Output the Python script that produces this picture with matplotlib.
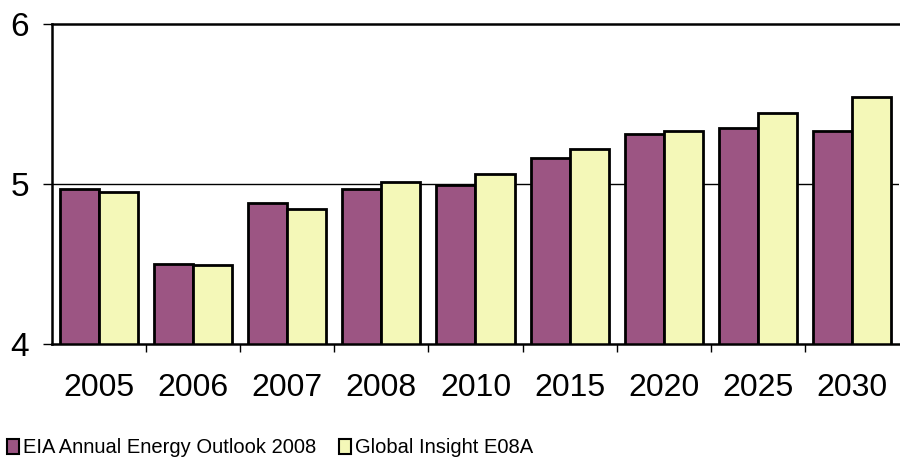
import matplotlib
matplotlib.use("Agg")
import matplotlib.pyplot as plt
import numpy as np

years = ["2005", "2006", "2007", "2008", "2010", "2015", "2020", "2025", "2030"]
eia = [4.97, 4.50, 4.88, 4.97, 4.99, 5.16, 5.31, 5.35, 5.33]
gi = [4.95, 4.49, 4.84, 5.01, 5.06, 5.215, 5.33, 5.44, 5.54]
series_names = ["EIA Annual Energy Outlook 2008", "Global Insight E08A"]
colors = ["#9C5583", "#F4F8B8"]

plt.rcParams['font.family'] = ["Liberation Sans", 'DejaVu Sans']

fig = plt.figure(figsize=(9, 4.66), dpi=100)
ax = fig.add_axes([52/900, 1-344/466, 847/900, (344-23.5)/466])

x = np.arange(len(years))
w = 0.415
ax.bar(x - w/2, eia, w, color=colors[0], edgecolor="black", linewidth=2, zorder=3, label=series_names[0])
ax.bar(x + w/2, gi, w, color=colors[1], edgecolor="black", linewidth=2, zorder=3, label=series_names[1])

ax.set_ylim(4, 6)
ax.set_xlim(-0.5, len(years) - 0.5)
ax.set_yticks([4, 5, 6])
ax.set_yticklabels(["4", "5", "6"], fontsize=24)
ax.axhline(5, color="black", linewidth=1, zorder=1)
ax.set_xticks(x)
ax.set_xticklabels(years, fontsize=23)
ax.set_xticks(np.arange(0.5, len(years) - 0.5, 1), minor=True)
ax.tick_params(axis="x", which="major", length=0, pad=21)
ax.tick_params(axis="x", which="minor", length=6, width=1, direction="out")
ax.tick_params(axis="y", length=6.5, width=1, direction="out", pad=10)

ax.spines["right"].set_visible(False)
for s in ["left", "bottom", "top"]:
    ax.spines[s].set_linewidth(1.8)
    ax.spines[s].set_zorder(4)

leg = fig.legend(loc="center left", bbox_to_anchor=(7/900, 0.039), ncol=2, frameon=False,
                 prop={"size": 14.5},
                 handlelength=0.6, handleheight=0.75, handletextpad=0.2, columnspacing=1.1,
                 borderaxespad=0, borderpad=0)
for h in leg.legend_handles:
    h.set_linewidth(1.5)

fig.savefig("out.png", dpi=100)
